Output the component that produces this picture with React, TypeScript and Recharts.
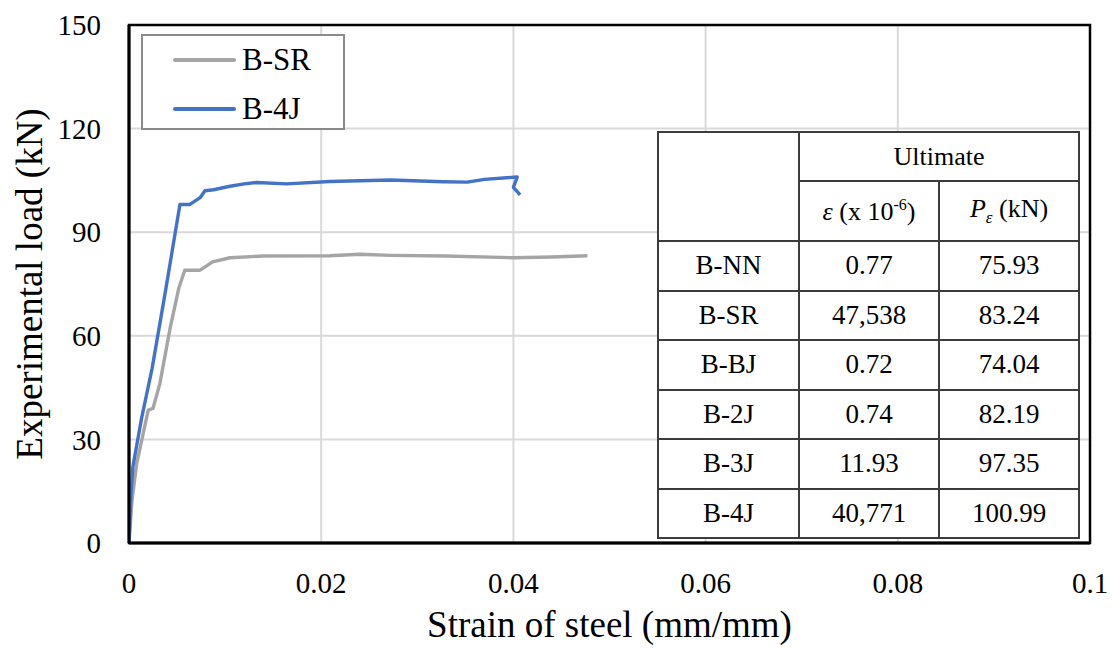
import { LineChart, Line, XAxis, YAxis, CartesianGrid, ReferenceArea } from "recharts";

const FONT = '"Liberation Serif", "Times New Roman", serif';

// B-SR curve (strain, load)
const srStrain = [0, 0.0003, 0.0008, 0.0015, 0.002, 0.0025, 0.0032, 0.0043, 0.0052, 0.0058, 0.0074, 0.0087, 0.0105, 0.014, 0.0209, 0.024, 0.0272, 0.033, 0.04, 0.044, 0.0477];
const srLoad = [0, 12, 23, 32, 38.5, 39, 46, 62.5, 74, 79, 79, 81.4, 82.6, 83.1, 83.2, 83.6, 83.3, 83.1, 82.6, 82.8, 83.2];

// B-4J curve
const fjStrain = [0, 0.0002, 0.0004, 0.0013, 0.0024, 0.0038, 0.0053, 0.0063, 0.0074, 0.0079, 0.0088, 0.0105, 0.012, 0.0133, 0.0164, 0.0209, 0.0272, 0.0327, 0.0352, 0.037, 0.0404, 0.04, 0.0407];
const fjLoad = [0, 14, 22, 36, 50.5, 73, 98, 98, 100, 102, 102.3, 103.3, 104, 104.4, 104, 104.7, 105.1, 104.6, 104.5, 105.3, 106, 103, 100.8];

const xTicks = [0, 0.02, 0.04, 0.06, 0.08, 0.1];
const yTicks = [0, 30, 60, 90, 120, 150];

const series = [
  { name: "B-SR", color: "#a5a5a5", strain: srStrain, load: srLoad },
  { name: "B-4J", color: "#4472c4", strain: fjStrain, load: fjLoad },
];

// table values
const specimens = ["B-NN", "B-SR", "B-BJ", "B-2J", "B-3J", "B-4J"];
const ultStrain = ["0.77", "47,538", "0.72", "0.74", "11.93", "40,771"];
const ultLoad = ["75.93", "83.24", "74.04", "82.19", "97.35", "100.99"];

const toPoints = (xs: number[], ys: number[]) => xs.map((x, i) => ({ x, y: ys[i] }));

function YTitle(props: { viewBox?: { x: number; y: number; width: number; height: number } }) {
  const vb = props.viewBox;
  if (!vb) return null;
  const cx = 42;
  const cy = vb.y + vb.height / 2;
  return (
    <text
      x={cx}
      y={cy}
      transform={`rotate(-90, ${cx}, ${cy})`}
      textAnchor="middle"
      fontFamily={FONT}
      fontSize={37}
      fill="#000"
    >
      Experimental load (kN)
    </text>
  );
}

const cell: React.CSSProperties = {
  border: "2px solid #3c3c3c",
  textAlign: "center",
  verticalAlign: "middle",
  padding: 0,
};

export default function App() {
  return (
    <div style={{ position: "absolute", left: 0, top: 0, width: 1113, height: 648, background: "#fff" }}>
      <LineChart width={1113} height={648} margin={{ top: 25, right: 23, bottom: 0, left: 0 }}>
        <CartesianGrid stroke="#d9d9d9" strokeWidth={2} />
        <XAxis
          dataKey="x"
          type="number"
          domain={[0, 0.1]}
          ticks={xTicks}
          allowDataOverflow
          height={105}
          axisLine={{ stroke: "#000", strokeWidth: 3 }}
          tickLine={false}
          tickSize={0}
          tickMargin={29}
          tick={{ fill: "#000", fontSize: 29, fontFamily: FONT }}
          tickFormatter={(v: number) => String(v)}
          label={{
            value: "Strain of steel (mm/mm)",
            position: "insideBottom",
            offset: 11,
            style: { fill: "#000", fontSize: 37, fontFamily: FONT },
          }}
        />
        <YAxis
          type="number"
          domain={[0, 150]}
          ticks={yTicks}
          width={129}
          axisLine={{ stroke: "#000", strokeWidth: 3 }}
          tickLine={false}
          tickSize={0}
          tickMargin={28}
          tick={{ fill: "#000", fontSize: 29, fontFamily: FONT }}
          label={<YTitle />}
        />
        <ReferenceArea x1={0} x2={0.1} y1={0} y2={150} fill="none" stroke="#000" strokeWidth={2.5} />
        {series.map((s) => (
          <Line
            key={s.name}
            data={toPoints(s.strain, s.load)}
            dataKey="y"
            name={s.name}
            type="linear"
            stroke={s.color}
            strokeWidth={3.4}
            strokeLinejoin="round"
            dot={false}
            isAnimationActive={false}
          />
        ))}
      </LineChart>

      {/* legend box */}
      <div
        style={{
          position: "absolute",
          left: 141,
          top: 34,
          width: 200,
          height: 92,
          border: "2px solid #8a8a8a",
          background: "#fff",
          fontFamily: FONT,
          fontSize: 31,
          color: "#000",
        }}
      >
        {series.map((s, i) => (
          <div
            key={s.name}
            style={{ position: "absolute", left: 30, top: 7 + i * 49, height: 34, display: "flex", alignItems: "center" }}
          >
            <div style={{ width: 63, height: 3.5, background: s.color, borderRadius: 2 }} />
            <span style={{ marginLeft: 6, lineHeight: "34px" }}>{s.name}</span>
          </div>
        ))}
      </div>

      {/* results table */}
      <table
        style={{
          position: "absolute",
          left: 657,
          top: 131,
          width: 421,
          height: 406,
          borderCollapse: "collapse",
          tableLayout: "fixed",
          background: "#fff",
          fontFamily: FONT,
          fontSize: 27,
          color: "#000",
        }}
      >
        <colgroup>
          <col style={{ width: 141 }} />
          <col style={{ width: 140 }} />
          <col style={{ width: 140 }} />
        </colgroup>
        <tbody>
          <tr style={{ height: 49 }}>
            <td style={cell} rowSpan={2}></td>
            <td style={{ ...cell, fontSize: 26 }} colSpan={2}>
              Ultimate
            </td>
          </tr>
          <tr style={{ height: 60 }}>
            <td style={{ ...cell, fontSize: 26 }}>
              <i>ε</i> (x 10<sup style={{ fontSize: 16 }}>-6</sup>)
            </td>
            <td style={{ ...cell, fontSize: 26 }}>
              <i>P</i>
              <sub style={{ fontSize: 17 }}>
                <i>ε</i>
              </sub>{" "}
              (kN)
            </td>
          </tr>
          {specimens.map((name, i) => (
            <tr key={name} style={{ height: 49.5 }}>
              <td style={cell}>{name}</td>
              <td style={cell}>{ultStrain[i]}</td>
              <td style={cell}>{ultLoad[i]}</td>
            </tr>
          ))}
        </tbody>
      </table>
    </div>
  );
}
